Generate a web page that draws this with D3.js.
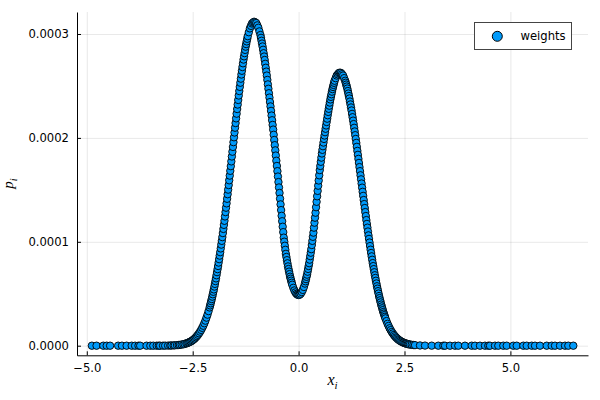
<!DOCTYPE html>
<html>
<head>
<meta charset="utf-8">
<script src="https://cdn.jsdelivr.net/npm/d3@7"></script>
<style>
  html, body { margin: 0; padding: 0; background: #fff; }
  svg { display: block; }
</style>
</head>
<body>
<script>
// ---- data ----
const seriesName = "weights";

const xs = [
  -4.88, -4.77, -4.61, -4.53, -4.45, -4.26, -4.17, -4.06, -3.94, -3.86, -3.78, -3.74, -3.59, -3.5, -3.43, -3.35, -3.3, -3.27, -3.2, -3.15, -3.08, -3.03, -3.0, -2.95, -2.92, -2.87, -2.83, -2.8, -2.76, -2.72, -2.69, -2.65, -2.625,
  -2.6, -2.575, -2.55, -2.525, -2.5, -2.475, -2.45, -2.425, -2.4, -2.375, -2.35, -2.325, -2.3, -2.275, -2.25, -2.225, -2.2, -2.175, -2.15, -2.125, -2.1,
  -2.0875, -2.075, -2.0625, -2.05, -2.0375, -2.025, -2.0125, -2.0, -1.9875, -1.975, -1.9625, -1.95, -1.9375, -1.925, -1.9125, -1.9,
  -1.8875, -1.875, -1.8625, -1.85, -1.8375, -1.825, -1.8125, -1.8, -1.7875, -1.775, -1.7625, -1.75, -1.7375, -1.725, -1.7125, -1.7,
  -1.6875, -1.675, -1.6625, -1.65, -1.6375, -1.625, -1.6125, -1.6, -1.5875, -1.575, -1.5625, -1.55, -1.5375, -1.525, -1.5125, -1.5,
  -1.4875, -1.475, -1.4625, -1.45, -1.4375, -1.425, -1.4125, -1.4, -1.3875, -1.375, -1.3625, -1.35, -1.3375, -1.325, -1.3125, -1.3,
  -1.2875, -1.275, -1.2625, -1.25, -1.2375, -1.225, -1.2125, -1.2,
  -1.175, -1.15, -1.125, -1.1, -1.075, -1.05, -1.025, -1.0, -0.975, -0.95, -0.925, -0.9,
  -0.8875, -0.875, -0.8625, -0.85, -0.8375, -0.825, -0.8125, -0.8, -0.7875, -0.775, -0.7625, -0.75, -0.7375, -0.725, -0.7125, -0.7,
  -0.6875, -0.675, -0.6625, -0.65, -0.6375, -0.625, -0.6125, -0.6, -0.5875, -0.575, -0.5625, -0.55, -0.5375, -0.525, -0.5125, -0.5,
  -0.4875, -0.475, -0.4625, -0.45, -0.4375, -0.425, -0.4125, -0.4, -0.3875, -0.375, -0.3625, -0.35, -0.3375, -0.325, -0.3125, -0.3,
  -0.2875, -0.275, -0.2625, -0.25, -0.2375, -0.225, -0.2125, -0.2, -0.1875, -0.175, -0.1625, -0.15,
  -0.125, -0.1, -0.075, -0.05, -0.025, 0.0, 0.025, 0.05, 0.075, 0.1, 0.125, 0.15,
  0.1625, 0.175, 0.1875, 0.2, 0.2125, 0.225, 0.2375, 0.25, 0.2625, 0.275, 0.2875, 0.3, 0.3125, 0.325, 0.3375, 0.35,
  0.3625, 0.375, 0.3875, 0.4, 0.4125, 0.425, 0.4375, 0.45, 0.4625, 0.475, 0.4875, 0.5, 0.5125, 0.525, 0.5375, 0.55,
  0.5625, 0.575, 0.5875, 0.6, 0.6125, 0.625, 0.6375, 0.65, 0.6625, 0.675, 0.6875, 0.7, 0.7125, 0.725, 0.7375, 0.75,
  0.7625, 0.775, 0.7875, 0.8, 0.8125, 0.825, 0.8375, 0.85,
  0.875, 0.9, 0.925, 0.95, 0.975, 1.0, 1.025, 1.05, 1.075, 1.1,
  1.1125, 1.125, 1.1375, 1.15, 1.1625, 1.175, 1.1875, 1.2, 1.2125, 1.225, 1.2375, 1.25, 1.2625, 1.275, 1.2875, 1.3,
  1.3125, 1.325, 1.3375, 1.35, 1.3625, 1.375, 1.3875, 1.4, 1.4125, 1.425, 1.4375, 1.45, 1.4625, 1.475, 1.4875, 1.5,
  1.5125, 1.525, 1.5375, 1.55, 1.5625, 1.575, 1.5875, 1.6, 1.6125, 1.625, 1.6375, 1.65, 1.6625, 1.675, 1.6875, 1.7,
  1.7125, 1.725, 1.7375, 1.75, 1.7625, 1.775, 1.7875, 1.8, 1.8125, 1.825, 1.8375, 1.85, 1.8625, 1.875, 1.8875, 1.9,
  1.9125, 1.925, 1.9375, 1.95, 1.9625, 1.975, 1.9875, 2.0, 2.0125, 2.025, 2.0375, 2.05,
  2.075, 2.1, 2.125, 2.15, 2.175, 2.2, 2.225, 2.25, 2.275, 2.3, 2.325, 2.35, 2.375, 2.4, 2.425, 2.45, 2.475, 2.5, 2.525, 2.55, 2.575, 2.6,
  2.63, 2.67, 2.71, 2.748, 2.866, 2.984, 3.142, 3.298, 3.416, 3.456, 3.574, 3.692, 3.77, 3.928, 4.086, 4.164, 4.282, 4.4, 4.478, 4.518,
  4.636, 4.714, 4.832, 4.913, 5.068, 5.149, 5.305, 5.385, 5.503, 5.581, 5.699, 5.857, 5.975, 6.053, 6.171, 6.289, 6.367, 6.485
];

const weights = [
  1.6e-16, 8e-16, 8e-15, 2.2e-14, 6.5e-14, 7e-13, 2.2e-12, 8e-12, 3.2e-11, 7.8e-11, 1.8e-10, 2.7e-10, 1.2e-9, 2.9e-9, 5.6e-9, 1.15e-8, 1.8e-8, 2.3e-8, 4.2e-8, 6.2e-8, 1.1e-7, 1.6e-7, 2.0e-7, 2.9e-7, 3.6e-7, 5.2e-7, 6.8e-7, 8.4e-7, 1.1e-6, 1.4e-6, 1.7e-6, 2.2e-6, 2.6e-6,
  3.0e-6, 3.5e-6, 4.0e-6, 4.6e-6, 5.3e-6, 6.1e-6, 7.0e-6, 8.1e-6, 9.2e-6, 1.05e-5, 1.19e-5, 1.35e-5, 1.52e-5, 1.72e-5, 1.92e-5, 2.16e-5, 2.41e-5, 2.70e-5, 2.99e-5, 3.33e-5, 3.68e-5,
  3.88e-5, 4.08e-5, 4.29e-5, 4.49e-5, 4.72e-5, 4.95e-5, 5.19e-5, 5.42e-5, 5.69e-5, 5.95e-5, 6.22e-5, 6.48e-5, 6.78e-5, 7.08e-5, 7.37e-5, 7.67e-5,
  8.00e-5, 8.33e-5, 8.67e-5, 9.00e-5, 9.36e-5, 9.73e-5, 1.009e-4, 1.045e-4, 1.084e-4, 1.124e-4, 1.163e-4, 1.202e-4, 1.244e-4, 1.286e-4, 1.328e-4, 1.370e-4,
  1.414e-4, 1.458e-4, 1.502e-4, 1.546e-4, 1.592e-4, 1.637e-4, 1.683e-4, 1.728e-4, 1.774e-4, 1.821e-4, 1.867e-4, 1.913e-4, 1.959e-4, 2.006e-4, 2.052e-4, 2.098e-4,
  2.143e-4, 2.188e-4, 2.233e-4, 2.278e-4, 2.321e-4, 2.365e-4, 2.408e-4, 2.451e-4, 2.491e-4, 2.531e-4, 2.570e-4, 2.610e-4, 2.646e-4, 2.682e-4, 2.718e-4, 2.754e-4,
  2.785e-4, 2.816e-4, 2.847e-4, 2.878e-4, 2.903e-4, 2.929e-4, 2.954e-4, 2.979e-4,
  3.017e-4, 3.054e-4, 3.078e-4, 3.101e-4, 3.110e-4, 3.118e-4, 3.112e-4, 3.105e-4, 3.083e-4, 3.06e-4, 3.025e-4, 2.99e-4,
  2.963e-4, 2.935e-4, 2.908e-4, 2.88e-4, 2.848e-4, 2.815e-4, 2.783e-4, 2.75e-4, 2.713e-4, 2.675e-4, 2.638e-4, 2.6e-4, 2.558e-4, 2.515e-4, 2.473e-4, 2.43e-4,
  2.388e-4, 2.345e-4, 2.303e-4, 2.26e-4, 2.215e-4, 2.17e-4, 2.125e-4, 2.08e-4, 2.03e-4, 1.98e-4, 1.93e-4, 1.88e-4, 1.83e-4, 1.78e-4, 1.73e-4, 1.68e-4,
  1.628e-4, 1.575e-4, 1.523e-4, 1.47e-4, 1.415e-4, 1.36e-4, 1.305e-4, 1.25e-4, 1.198e-4, 1.145e-4, 1.093e-4, 1.04e-4, 1.001e-4, 9.62e-5, 9.23e-5, 8.84e-5,
  8.54e-5, 8.23e-5, 7.93e-5, 7.63e-5, 7.38e-5, 7.13e-5, 6.89e-5, 6.64e-5, 6.45e-5, 6.26e-5, 6.06e-5, 5.87e-5,
  5.57e-5, 5.32e-5, 5.13e-5, 4.99e-5, 4.91e-5, 4.88e-5, 4.91e-5, 5.00e-5, 5.16e-5, 5.37e-5, 5.65e-5, 5.98e-5,
  6.20e-5, 6.41e-5, 6.63e-5, 6.84e-5, 7.12e-5, 7.39e-5, 7.67e-5, 7.94e-5, 8.28e-5, 8.62e-5, 8.95e-5, 9.29e-5, 9.69e-5, 1.009e-4, 1.048e-4, 1.088e-4,
  1.136e-4, 1.184e-4, 1.232e-4, 1.28e-4, 1.333e-4, 1.385e-4, 1.438e-4, 1.49e-4, 1.54e-4, 1.59e-4, 1.64e-4, 1.69e-4, 1.73e-4, 1.77e-4, 1.81e-4, 1.85e-4,
  1.885e-4, 1.92e-4, 1.955e-4, 1.99e-4, 2.023e-4, 2.055e-4, 2.088e-4, 2.12e-4, 2.153e-4, 2.185e-4, 2.218e-4, 2.25e-4, 2.28e-4, 2.31e-4, 2.34e-4, 2.37e-4,
  2.395e-4, 2.42e-4, 2.445e-4, 2.47e-4, 2.49e-4, 2.51e-4, 2.53e-4, 2.55e-4,
  2.575e-4, 2.6e-4, 2.612e-4, 2.624e-4, 2.628e-4, 2.625e-4, 2.613e-4, 2.6e-4, 2.575e-4, 2.55e-4,
  2.531e-4, 2.513e-4, 2.494e-4, 2.475e-4, 2.451e-4, 2.427e-4, 2.403e-4, 2.379e-4, 2.35e-4, 2.322e-4, 2.293e-4, 2.264e-4, 2.231e-4, 2.199e-4, 2.166e-4, 2.133e-4,
  2.097e-4, 2.062e-4, 2.026e-4, 1.99e-4, 1.952e-4, 1.914e-4, 1.875e-4, 1.837e-4, 1.798e-4, 1.759e-4, 1.719e-4, 1.68e-4, 1.64e-4, 1.601e-4, 1.561e-4, 1.521e-4,
  1.481e-4, 1.442e-4, 1.402e-4, 1.363e-4, 1.325e-4, 1.286e-4, 1.248e-4, 1.209e-4, 1.172e-4, 1.136e-4, 1.099e-4, 1.062e-4, 1.028e-4, 9.93e-5, 9.59e-5, 9.24e-5,
  8.92e-5, 8.60e-5, 8.27e-5, 7.95e-5, 7.66e-5, 7.37e-5, 7.07e-5, 6.78e-5, 6.52e-5, 6.25e-5, 5.99e-5, 5.72e-5, 5.49e-5, 5.25e-5, 5.02e-5, 4.78e-5,
  4.58e-5, 4.37e-5, 4.17e-5, 3.96e-5, 3.78e-5, 3.60e-5, 3.42e-5, 3.24e-5, 3.09e-5, 2.94e-5, 2.78e-5, 2.63e-5,
  2.37e-5, 2.11e-5, 1.90e-5, 1.68e-5, 1.50e-5, 1.32e-5, 1.18e-5, 1.03e-5, 9.1e-6, 7.9e-6, 7.0e-6, 6.0e-6, 5.3e-6, 4.6e-6, 4.0e-6, 3.4e-6, 3.0e-6, 2.5e-6, 2.2e-6, 1.9e-6, 1.6e-6, 1.35e-6,
  1.1e-6, 8.5e-7, 6.6e-7, 5.2e-7, 2.3e-7, 1.0e-7, 3e-8, 1e-8, 4e-9, 3e-9, 1e-9, 4e-10, 2e-10, 4e-11, 8e-12, 3e-12, 1e-12, 3e-13, 1e-13, 7e-14,
  2e-14, 8e-15, 2e-15, 8e-16, 1e-16, 5e-17, 8e-18, 3e-18, 7e-19, 3e-19, 6e-20, 8e-21, 2e-21, 7e-22, 1e-22, 3e-23, 1e-23, 2e-24
];

const xTicks = [-5, -2.5, 0, 2.5, 5];
const xTickLabels = ["\u22125.0", "\u22122.5", "0.0", "2.5", "5.0"];
const yTicks = [0, 0.0001, 0.0002, 0.0003];
const yTickLabels = ["0.0000", "0.0001", "0.0002", "0.0003"];

// ---- layout ----
const W = 600, H = 400;
const M = { left: 77, right: 588, top: 12, bottom: 355.3 };
const FONT = "'DejaVu Sans', sans-serif";
const FS = 11.6;
const BLUE = "#009AFA";

const svg = d3.select("body").append("svg")
  .attr("width", W).attr("height", H)
  .attr("viewBox", `0 0 ${W} ${H}`);
svg.append("rect").attr("width", W).attr("height", H).attr("fill", "#fff");

const x = d3.scaleLinear().domain([-5.231, 6.832]).range([M.left, M.right]);
const y = d3.scaleLinear().domain([-0.924e-5, 3.2117e-4]).range([M.bottom, M.top]);

// grid
svg.append("g")
  .attr("transform", `translate(0,${M.bottom})`)
  .call(d3.axisBottom(x).tickValues(xTicks).tickSize(-(M.bottom - M.top)).tickFormat(""))
  .call(g => g.select(".domain").remove())
  .call(g => g.selectAll("line").attr("stroke", "#000").attr("stroke-opacity", 0.09).attr("stroke-width", 1));
svg.append("g")
  .attr("transform", `translate(${M.left},0)`)
  .call(d3.axisLeft(y).tickValues(yTicks).tickSize(-(M.right - M.left)).tickFormat(""))
  .call(g => g.select(".domain").remove())
  .call(g => g.selectAll("line").attr("stroke", "#000").attr("stroke-opacity", 0.09).attr("stroke-width", 1));

// axes
const xAxis = svg.append("g")
  .attr("transform", `translate(0,${M.bottom})`)
  .call(d3.axisBottom(x).tickValues(xTicks)
    .tickFormat((d, i) => xTickLabels[i])
    .tickSizeInner(-4).tickSizeOuter(0).tickPadding(8));
const yAxis = svg.append("g")
  .attr("transform", `translate(${M.left},0)`)
  .call(d3.axisLeft(y).tickValues(yTicks)
    .tickFormat((d, i) => yTickLabels[i])
    .tickSizeInner(-4).tickSizeOuter(0).tickPadding(8));
[xAxis, yAxis].forEach(g => {
  g.attr("font-family", FONT).attr("font-size", FS);
  g.selectAll("text").attr("fill", "#000");
  g.selectAll("line").attr("stroke", "#000");
  g.select(".domain").attr("stroke", "#000").attr("stroke-width", 1);
});

// points
const pts = xs.map((v, i) => ({ x: v, p: weights[i] }));
svg.append("g")
  .selectAll("circle")
  .data(pts)
  .join("circle")
  .attr("cx", d => x(d.x))
  .attr("cy", d => y(d.p))
  .attr("r", 3.7)
  .attr("fill", BLUE)
  .attr("stroke", "#000")
  .attr("stroke-width", 0.9);

// axis labels
const xl = svg.append("text")
  .attr("x", (M.left + M.right) / 2)
  .attr("y", 385)
  .attr("text-anchor", "middle")
  .attr("font-family", "'Liberation Serif', 'DejaVu Serif', serif")
  .attr("font-style", "italic")
  .attr("font-size", 16)
  .attr("fill", "#000");
xl.append("tspan").text("x");
xl.append("tspan").attr("font-size", 11).attr("dy", 4).text("i");

const yl = svg.append("text")
  .attr("transform", `translate(13,${(M.top + M.bottom) / 2}) rotate(-90)`)
  .attr("text-anchor", "middle")
  .attr("font-family", "'Liberation Serif', 'DejaVu Serif', serif")
  .attr("font-style", "italic")
  .attr("font-size", 15)
  .attr("fill", "#000");
yl.append("tspan").text("p");
yl.append("tspan").attr("font-size", 10.5).attr("dy", 4).text("i");

// legend
const lg = svg.append("g");
lg.append("rect")
  .attr("x", 474.5).attr("y", 22.5).attr("width", 97).attr("height", 27)
  .attr("fill", "#fff").attr("stroke", "#444").attr("stroke-width", 1);
lg.append("circle")
  .attr("cx", 497.3).attr("cy", 36.3).attr("r", 5)
  .attr("fill", BLUE).attr("stroke", "#000").attr("stroke-width", 1);
lg.append("text")
  .attr("x", 520.5).attr("y", 36.3)
  .attr("dy", "0.35em")
  .attr("font-family", FONT).attr("font-size", FS)
  .attr("fill", "#000")
  .text(seriesName);
</script>
</body>
</html>
